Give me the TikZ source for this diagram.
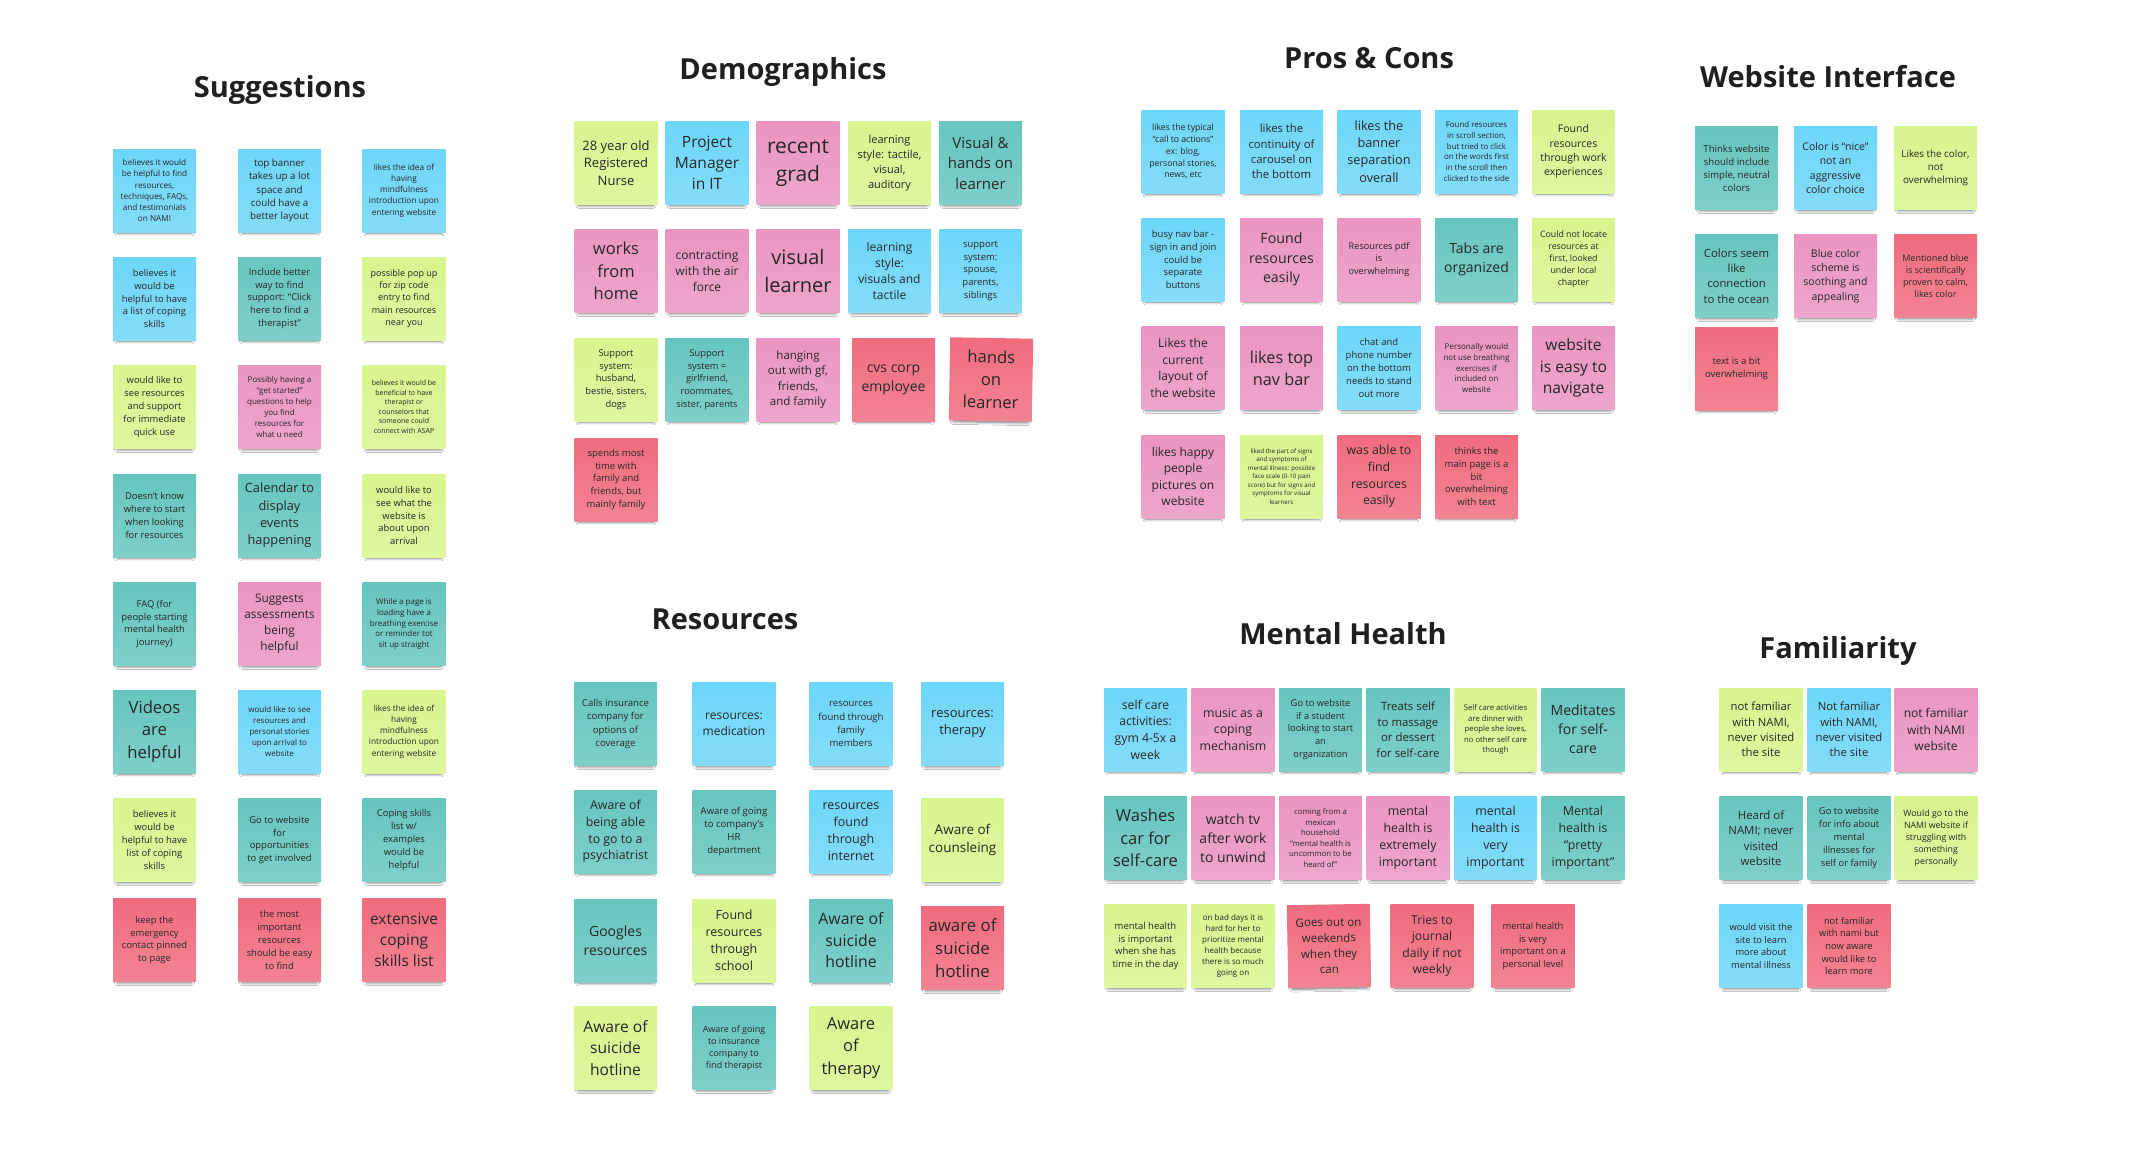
\documentclass[tikz,border=0pt]{standalone}
\usepackage{fontspec}
\setmainfont{Open Sans}
\usetikzlibrary{shadows.blur}

\definecolor{nblue}{HTML}{6DD6F8}
\definecolor{nteal}{HTML}{66C6BE}
\definecolor{ngreen}{HTML}{D8F58E}
\definecolor{npink}{HTML}{EA95C1}
\definecolor{nred}{HTML}{F06C7F}
\definecolor{ink}{HTML}{262626}

\tikzset{
  note/.style={minimum width=83, minimum height=83, inner sep=1pt,
    align=center, text=ink, top color=#1, bottom color=#1!84!white,
    blur shadow={shadow xshift=0pt, shadow yshift=-6pt, shadow scale=0.9,
      shadow blur radius=3pt, shadow blur steps=6, shadow opacity=55}},
  fs/.style={font=\fontsize{#1}{\fpeval{1.36*#1}}\selectfont},
  heading/.style={font=\fontsize{29}{35}\selectfont\bfseries, text=black!88}
}

\begin{document}
\begin{tikzpicture}[x=1pt, y=-1pt]
\useasboundingbox[fill=white] (0,0) rectangle (2144,1175);

% ---------- Suggestions ----------
\node[heading] (tSug) at (280,90) {Suggestions};
\node[note=nblue, fs=8.2] (s1) at (154.5,190.5) {believes it would\\be helpful to find\\resources,\\techniques, FAQs,\\and testimonials\\on NAMI};
\node[note=nblue, fs=9.8] (s2) at (279.5,190.5) {top banner\\takes up a lot\\space and\\could have a\\better layout};
\node[note=nblue, fs=8.3] (s3) at (404,190.5) {likes the idea of\\having\\mindfulness\\introduction upon\\entering website};
\node[note=nblue, fs=9.4] (s4) at (154.5,298.5) {believes it\\would be\\helpful to have\\a list of coping\\skills};
\node[note=nteal, fs=9.4] (s5) at (279.5,298.5) {Include better\\way to find\\support: ``Click\\here to find a\\therapist''};
\node[note=ngreen, fs=9] (s6) at (404,298.5) {possible pop up\\for zip code\\entry to find\\main resources\\near you};
\node[note=ngreen, fs=9.4] (s7) at (154.5,407) {would like to\\see resources\\and support\\for immediate\\quick use};
\node[note=npink, fs=8] (s8) at (279.5,407) {Possibly having a\\``get started''\\questions to help\\you find\\resources for\\what u need};
\node[note=ngreen, fs=7] (s9) at (404,407) {believes it would be\\beneficial to have\\therapist or\\counselors that\\someone could\\connect with ASAP};
\node[note=nteal, fs=9.4] (s10) at (154.5,515.5) {Doesn't know\\where to start\\when looking\\for resources};
\node[note=nteal, fs=12.8] (s11) at (279.5,515.5) {Calendar to\\display\\events\\happening};
\node[note=ngreen, fs=9.4] (s12) at (404,515.5) {would like to\\see what the\\website is\\about upon\\arrival};
\node[note=nteal, fs=9.4] (s13) at (154.5,624) {FAQ (for\\people starting\\mental health\\journey)};
\node[note=npink, fs=11.8] (s14) at (279.5,624) {Suggests\\assessments\\being\\helpful};
\node[note=nteal, fs=8] (s15) at (404,624) {While a page is\\loading have a\\breathing exercise\\or reminder tot\\sit up straight};
\node[note=nteal, fs=16.7] (s16) at (154.5,731.5) {Videos\\are\\helpful};
\node[note=nblue, fs=8] (s17) at (279.5,731.5) {would like to see\\resources and\\personal stories\\upon arrival to\\website};
\node[note=ngreen, fs=8.3] (s18) at (404,731.5) {likes the idea of\\having\\mindfulness\\introduction upon\\entering website};
\node[note=ngreen, fs=9.4] (s19) at (154.5,840) {believes it\\would be\\helpful to have\\list of coping\\skills};
\node[note=nteal, fs=9.4] (s20) at (279.5,840) {Go to website\\for\\opportunities\\to get involved};
\node[note=nteal, fs=9.4] (s21) at (404,840) {Coping skills\\list w/\\examples\\would be\\helpful};
\node[note=nred, fs=9.4] (s22) at (154.5,940) {keep the\\emergency\\contact pinned\\to page};
\node[note=nred, fs=9.4] (s23) at (279.5,940) {the most\\important\\resources\\should be easy\\to find};
\node[note=nred, fs=15.5] (s24) at (404,940) {extensive\\coping\\skills list};

% ---------- Demographics ----------
\node[heading] (tDem) at (783,72) {Demographics};
\node[note=ngreen, fs=13] (d1) at (616,163) {28 year old\\Registered\\Nurse};
\node[note=nblue, fs=15.5] (d2) at (707,163) {Project\\Manager\\in IT};
\node[note=npink, fs=21] (d3) at (798,163) {recent\\grad};
\node[note=ngreen, fs=11] (d4) at (889.5,163) {learning\\style: tactile,\\visual,\\auditory};
\node[note=nteal, fs=15] (d5) at (980.5,163) {Visual \&\\hands on\\learner};
\node[note=npink, fs=16.5] (d6) at (616,271) {works\\from\\home};
\node[note=npink, fs=12] (d7) at (707,271) {contracting\\with the air\\force};
\node[note=npink, fs=20] (d8) at (798,271) {visual\\learner};
\node[note=nblue, fs=12] (d9) at (889.5,271) {learning\\style:\\visuals and\\tactile};
\node[note=nblue, fs=9.5] (d10) at (980.5,271) {support\\system:\\spouse,\\parents,\\siblings};
\node[note=ngreen, fs=9.3] (d11) at (616,379.5) {Support\\system:\\husband,\\bestie, sisters,\\dogs};
\node[note=nteal, fs=9.3] (d12) at (707,379.5) {Support\\system =\\girlfriend,\\roommates,\\sister, parents};
\node[note=npink, fs=11.5] (d13) at (798,379.5) {hanging\\out with gf,\\friends,\\and family};
\node[note=nred, fs=14] (d14) at (893.5,379.5) {cvs corp\\employee};
\node[note=nred, fs=16.6, rotate=-1] (d15) at (991,379.5) {hands\\on\\learner};
\node[note=nred, fs=9.5] (d16) at (616,479.5) {spends most\\time with\\family and\\friends, but\\mainly family};

% ---------- Pros & Cons ----------
\node[heading] (tPro) at (1369,58) {Pros \& Cons};
\node[note=nblue, fs=8.7] (p1) at (1183,151.5) {likes the typical\\``call to actions''\\ex: blog,\\personal stories,\\news, etc};
\node[note=nblue, fs=11.3] (p2) at (1281.5,151.5) {likes the\\continuity of\\carousel on\\the bottom};
\node[note=nblue, fs=12.7] (p3) at (1379,151.5) {likes the\\banner\\separation\\overall};
\node[note=nblue, fs=7.9] (p4) at (1476.5,151.5) {Found resources\\in scroll section,\\but tried to click\\on the words first\\in the scroll then\\clicked to the side};
\node[note=ngreen, fs=10.5] (p5) at (1573.5,151.5) {Found\\resources\\through work\\experiences};
\node[note=nblue, fs=9.5] (p6) at (1183,259.5) {busy nav bar -\\sign in and join\\could be\\separate\\buttons};
\node[note=npink, fs=14.2] (p7) at (1281.5,259.5) {Found\\resources\\easily};
\node[note=npink, fs=9.2] (p8) at (1379,259.5) {Resources pdf\\is\\overwhelming};
\node[note=nteal, fs=14] (p9) at (1476.5,259.5) {Tabs are\\organized};
\node[note=ngreen, fs=8.8] (p10) at (1573.5,259.5) {Could not locate\\resources at\\first, looked\\under local\\chapter};
\node[note=npink, fs=12.1] (p11) at (1183,368) {Likes the\\current\\layout of\\the website};
\node[note=npink, fs=16.3] (p12) at (1281.5,368) {likes top\\nav bar};
\node[note=nblue, fs=9.5] (p13) at (1379,368) {chat and\\phone number\\on the bottom\\needs to stand\\out more};
\node[note=npink, fs=8] (p14) at (1476.5,368) {Personally would\\not use breathing\\exercises if\\included on\\website};
\node[note=npink, fs=15.6] (p15) at (1573.5,368) {website\\is easy to\\navigate};
\node[note=npink, fs=12] (p16) at (1183,476.5) {likes happy\\people\\pictures on\\website};
\node[note=ngreen, fs=6.2] (p17) at (1281.5,476.5) {liked the part of signs\\and symptoms of\\mental illness: possible\\face scale (0-10 pain\\score) but for signs and\\symptoms for visual\\learners};
\node[note=nred, fs=12.3] (p18) at (1379,476.5) {was able to\\find\\resources\\easily};
\node[note=nred, fs=9.5] (p19) at (1476.5,476.5) {thinks the\\main page is a\\bit\\overwhelming\\with text};

% ---------- Website Interface ----------
\node[heading] (tWeb) at (1828,77) {Website Interface};
\node[note=nteal, fs=9.6] (w1) at (1736.5,168) {Thinks website\\should include\\simple, neutral\\colors};
\node[note=nblue, fs=10.5] (w2) at (1835.5,168) {Color is ``nice''\\not an\\aggressive\\color choice};
\node[note=ngreen, fs=9.8] (w3) at (1935.5,168) {Likes the color,\\not\\overwhelming};
\node[note=nteal, fs=11.3] (w4) at (1736.5,276) {Colors seem\\like\\connection\\to the ocean};
\node[note=npink, fs=10.5] (w5) at (1835.5,276) {Blue color\\scheme is\\soothing and\\appealing};
\node[note=nred, fs=9] (w6) at (1935.5,276) {Mentioned blue\\is scientifically\\proven to calm,\\likes color};
\node[note=nred, fs=9.5] (w7) at (1736.5,368.5) {text is a bit\\overwhelming};

% ---------- Resources ----------
\node[heading] (tRes) at (725,619) {Resources};
\node[note=nteal, fs=9.6] (r1) at (615.5,724) {Calls insurance\\company for\\options of\\coverage};
\node[note=nblue, fs=12] (r2) at (734,724) {resources:\\medication};
\node[note=nblue, fs=9.6] (r3) at (851,724) {resources\\found through\\family\\members};
\node[note=nblue, fs=13] (r4) at (962.5,724) {resources:\\therapy};
\node[note=nteal, fs=12.3] (r5) at (615.5,831.5) {Aware of\\being able\\to go to a\\psychiatrist};
\node[note=nteal, fs=9.6] (r6) at (734,831.5) {Aware of going\\to company's\\HR\\department};
\node[note=nblue, fs=12.5] (r7) at (851,831.5) {resources\\found\\through\\internet};
\node[note=ngreen, fs=13.5] (r8) at (962.5,840) {Aware of\\counsleing};
\node[note=nteal, fs=14] (r9) at (615.5,940.5) {Googles\\resources};
\node[note=ngreen, fs=12.5] (r10) at (734,940.5) {Found\\resources\\through\\school};
\node[note=nteal, fs=15.8] (r11) at (851,940.5) {Aware of\\suicide\\hotline};
\node[note=nred, fs=16.8] (r12) at (962.5,948) {aware of\\suicide\\hotline};
\node[note=ngreen, fs=15.6] (r13) at (615.5,1048) {Aware of\\suicide\\hotline};
\node[note=nteal, fs=9] (r14) at (734,1048) {Aware of going\\to insurance\\company to\\find therapist};
\node[note=ngreen, fs=16.5] (r15) at (851,1048) {Aware\\of\\therapy};

% ---------- Mental Health ----------
\node[heading] (tMen) at (1343,634) {Mental Health};
\node[note=nblue, fs=12.2] (m1) at (1145.5,729.5) {self care\\activities:\\gym 4-5x a\\week};
\node[note=npink, fs=12.3] (m2) at (1233,729.5) {music as a\\coping\\mechanism};
\node[note=nteal, fs=9.3] (m3) at (1320.5,729.5) {Go to website\\if a student\\looking to start\\an\\organization};
\node[note=nteal, fs=11.4] (m4) at (1408,729.5) {Treats self\\to massage\\or dessert\\for self-care};
\node[note=ngreen, fs=7.7] (m5) at (1495.5,729.5) {Self care activities\\are dinner with\\people she loves,\\no other self care\\though};
\node[note=nteal, fs=14] (m6) at (1583,729.5) {Meditates\\for self-\\care};
\node[note=nteal, fs=16.5] (m7) at (1145.5,838) {Washes\\car for\\self-care};
\node[note=npink, fs=14] (m8) at (1233,838) {watch tv\\after work\\to unwind};
\node[note=npink, fs=7.8] (m9) at (1320.5,838) {coming from a\\mexican\\household\\``mental health is\\uncommon to be\\heard of''};
\node[note=npink, fs=12.4] (m10) at (1408,838) {mental\\health is\\extremely\\important};
\node[note=nblue, fs=12.4] (m11) at (1495.5,838) {mental\\health is\\very\\important};
\node[note=nteal, fs=12.4] (m12) at (1583,838) {Mental\\health is\\``pretty\\important''};
\node[note=ngreen, fs=9.5] (m13) at (1145.5,946) {mental health\\is important\\when she has\\time in the day};
\node[note=ngreen, fs=8] (m14) at (1233,946) {on bad days it is\\hard for her to\\prioritize mental\\health because\\there is so much\\going on};
\node[note=nred, fs=11.6, rotate=1] (m15) at (1329,946) {Goes out on\\weekends\\when they\\can};
\node[note=nred, fs=12.2] (m16) at (1432,946) {Tries to\\journal\\daily if not\\weekly};
\node[note=nred, fs=9.4] (m17) at (1533,946) {mental health\\is very\\important on a\\personal level};

% ---------- Familiarity ----------
\node[heading] (tFam) at (1838,651) {Familiarity};
\node[note=ngreen, fs=11.3] (f1) at (1761,729.5) {not familiar\\with NAMI,\\never visited\\the site};
\node[note=nblue, fs=11.3] (f2) at (1849,729.5) {Not familiar\\with NAMI,\\never visited\\the site};
\node[note=npink, fs=12] (f3) at (1936,729.5) {not familiar\\with NAMI\\website};
\node[note=nteal, fs=11.4] (f4) at (1761,838) {Heard of\\NAMI; never\\visited\\website};
\node[note=nteal, fs=9.4] (f5) at (1849,838) {Go to website\\for info about\\mental\\illnesses for\\self or family};
\node[note=ngreen, fs=8.8] (f6) at (1936,838) {Would go to the\\NAMI website if\\struggling with\\something\\personally};
\node[note=nblue, fs=9.3] (f7) at (1761,946) {would visit the\\site to learn\\more about\\mental illness};
\node[note=nred, fs=9.3] (f8) at (1849,946) {not familiar\\with nami but\\now aware\\would like to\\learn more};
\end{tikzpicture}
\end{document}
